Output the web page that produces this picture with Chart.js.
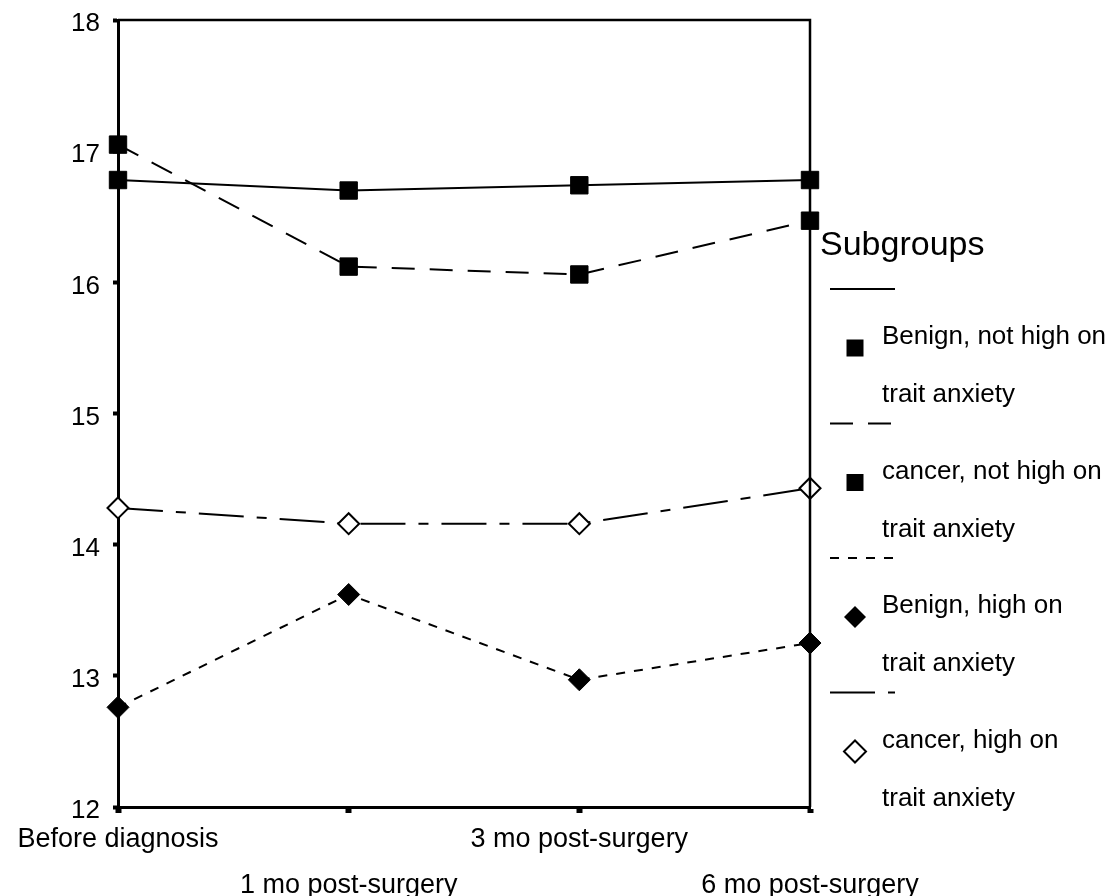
<!DOCTYPE html>
<html>
<head>
<meta charset="utf-8">
<script src="https://cdn.jsdelivr.net/npm/chart.js@4"></script>
<style>
  html, body { margin: 0; padding: 0; background: #fff; }
  #wrap { width: 1117px; height: 896px; }
</style>
</head>
<body>
<div id="wrap"><canvas id="chart" width="1117" height="896"></canvas></div>
<script>
// Data
const timePoints = ['Before diagnosis', '1 mo post-surgery', '3 mo post-surgery', '6 mo post-surgery'];
const benignNotHigh = [16.78, 16.70, 16.74, 16.78];
const cancerNotHigh = [17.05, 16.12, 16.06, 16.47];
const benignHigh = [12.76, 13.62, 12.97, 13.25];
const cancerHigh = [14.28, 14.16, 14.16, 14.43];
const seriesNames = [
    ['Benign, not high on', 'trait anxiety'],
    ['cancer, not high on', 'trait anxiety'],
    ['Benign, high on', 'trait anxiety'],
    ['cancer, high on', 'trait anxiety']
];
const yTicks = [12, 13, 14, 15, 16, 17, 18];

const FONT = "'Liberation Sans', Arial, sans-serif";

// staggered x labels: even ones on the first row, odd ones on the second
const xLabels = timePoints.map((t, i) => (i % 2 === 0 ? [t, ''] : ['', t]));

const makeSet = (name, data, dash, style, radius, fill) => ({
    label: name.join(' '),
    legendLines: name,
    data: data,
    borderColor: '#000',
    borderWidth: 2,
    borderDash: dash,
    tension: 0,
    fill: false,
    clip: false,
    pointStyle: style,
    pointRadius: radius,
    pointHoverRadius: radius,
    pointBackgroundColor: fill,
    pointBorderColor: '#000',
    pointBorderWidth: fill === '#fff' ? 2 : 1
});

// frame on top and right, plus the legend block on the right
const framePlugin = {
    id: 'frame',
    afterDraw(chart) {
        const { ctx, chartArea: a } = chart;
        ctx.save();
        ctx.strokeStyle = '#000';
        ctx.lineWidth = 2.5;
        ctx.beginPath();
        ctx.moveTo(a.left, a.top);
        ctx.lineTo(a.right, a.top);
        ctx.lineTo(a.right, a.bottom);
        ctx.stroke();

        // legend
        ctx.fillStyle = '#000';
        ctx.textBaseline = 'middle';
        ctx.textAlign = 'left';
        ctx.font = '34px ' + FONT;
        ctx.fillText('Subgroups', 820, 246);

        chart.data.datasets.forEach((ds, i) => {
            const base = 289 + i * 134.5;
            ctx.lineWidth = 2;
            ctx.setLineDash(ds.borderDash || []);
            ctx.beginPath();
            ctx.moveTo(830, base);
            ctx.lineTo(895, base);
            ctx.stroke();
            ctx.setLineDash([]);

            const mx = 855, my = base + 59;
            ctx.beginPath();
            if (ds.pointStyle === 'rect') {
                const h = 8.5;
                ctx.rect(mx - h, my - h, 2 * h, 2 * h);
            } else {
                const r = 11;
                ctx.moveTo(mx - r, my);
                ctx.lineTo(mx, my - r);
                ctx.lineTo(mx + r, my);
                ctx.lineTo(mx, my + r);
                ctx.closePath();
            }
            ctx.fillStyle = ds.pointBackgroundColor;
            ctx.fill();
            if (ds.pointBackgroundColor === '#fff') {
                ctx.lineWidth = 2;
                ctx.stroke();
            }

            ctx.fillStyle = '#000';
            ctx.font = '26px ' + FONT;
            ctx.fillText(ds.legendLines[0], 882, base + 48);
            ctx.fillText(ds.legendLines[1], 882, base + 106);
        });
        ctx.restore();
    }
};

new Chart(document.getElementById('chart'), {
    type: 'line',
    data: {
        labels: xLabels,
        datasets: [
            makeSet(seriesNames[0], benignNotHigh, [], 'rect', 12.3, '#000'),
            makeSet(seriesNames[1], cancerNotHigh, [23, 15], 'rect', 12.3, '#000'),
            makeSet(seriesNames[2], benignHigh, [9, 9], 'rectRot', 11, '#000'),
            makeSet(seriesNames[3], cancerHigh, [45, 13, 10, 13], 'rectRot', 10.5, '#fff')
        ]
    },
    options: {
        responsive: false,
        animation: false,
        events: [],
        layout: { padding: { left: 0, top: 20, right: 307, bottom: 0 } },
        plugins: {
            legend: { display: false },
            tooltip: { enabled: false }
        },
        scales: {
            x: {
                offset: false,
                border: { display: true, color: '#000', width: 3 },
                grid: {
                    offset: false,
                    drawOnChartArea: false,
                    drawTicks: true,
                    tickLength: 6,
                    tickWidth: 6,
                    tickColor: '#000'
                },
                ticks: {
                    color: '#000',
                    maxRotation: 0,
                    autoSkip: false,
                    padding: 4,
                    font: { family: FONT, size: 27, lineHeight: 1.7 }
                },
                afterFit: (s) => { s.height = 89; s.paddingLeft = 0; s.paddingRight = 0; }
            },
            y: {
                min: yTicks[0],
                max: yTicks[yTicks.length - 1],
                afterBuildTicks: (s) => { s.ticks = yTicks.map(v => ({ value: v })); },
                border: { display: true, color: '#000', width: 3 },
                grid: {
                    drawOnChartArea: false,
                    drawTicks: true,
                    tickLength: 5,
                    tickWidth: 4,
                    tickColor: '#000'
                },
                ticks: {
                    color: '#000',
                    padding: 13,
                    labelOffset: 4,
                    font: { family: FONT, size: 26 }
                },
                afterFit: (s) => { s.width = 118; s.paddingTop = 0; s.paddingBottom = 0; }
            }
        }
    },
    plugins: [framePlugin]
});
</script>
</body>
</html>
